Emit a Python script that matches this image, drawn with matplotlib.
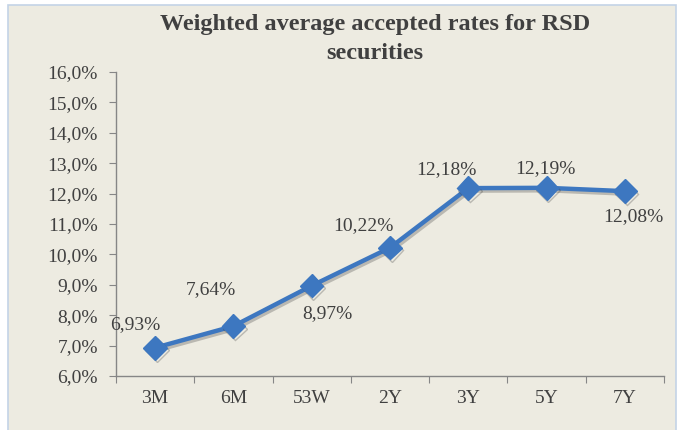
import matplotlib.pyplot as plt
import matplotlib.patheffects as pe
from matplotlib.patches import Rectangle

categories = ['3M', '6M', '53W', '2Y', '3Y', '5Y', '7Y']
rates = [6.93, 7.64, 8.97, 10.22, 12.18, 12.19, 12.08]
labels = ['6,93%', '7,64%', '8,97%', '10,22%', '12,18%', '12,19%', '12,08%']
# label offsets in points (dx, dy)
offsets = [(-14, 17), (-16, 26), (11, -20), (-19, 16), (-16, 13), (-1, 14), (6, -18)]

plt.rcParams['font.family'] = ['Liberation Serif', 'DejaVu Serif']
txt = '#404040'
bg = '#EDEBE1'

fig = plt.figure(figsize=(6.81, 4.30), dpi=100, facecolor='white')
fig.patches.append(Rectangle((8 / 681, -0.01), 668 / 681, 1 - 5 / 430 + 0.01,
                             transform=fig.transFigure, facecolor=bg,
                             edgecolor='#C3D3E6', linewidth=1.2, zorder=-10))

ax = fig.add_axes([116 / 681, 1 - 376 / 430, 548 / 681, 304 / 430])
ax.set_facecolor(bg)
ax.patch.set_alpha(0)

x = list(range(len(categories)))
ax.plot(x, rates, color='#3D77C0', linewidth=3.2, marker='D', markersize=12,
        markeredgecolor='#3D77C0', zorder=3,
        path_effects=[pe.SimpleLineShadow(offset=(1.2, -1.8), alpha=0.3, shadow_color='#444444'),
                      pe.Normal()])

for xi, yi, lab, off in zip(x, rates, labels, offsets):
    ax.annotate(lab, (xi, yi), xytext=off, textcoords='offset points',
                ha='center', va='center', fontsize=14, color=txt)

ax.set_xlim(-0.5, 6.5)
ax.set_ylim(6, 16)
ax.set_yticks(range(6, 17))
ax.set_yticklabels(['%d,0%%' % v for v in range(6, 17)], fontsize=14, color=txt)
ax.set_xticks([i - 0.5 for i in range(8)])
ax.set_xticklabels([])
ax.set_xticks(x, minor=True)
ax.set_xticklabels(categories, minor=True, fontsize=14, color=txt)
ax.tick_params(axis='x', which='major', length=5, color='#868686', direction='out')
ax.tick_params(axis='x', which='minor', length=0, pad=10)
ax.tick_params(axis='y', length=5, color='#868686', direction='out', pad=8)

for s in ['top', 'right']:
    ax.spines[s].set_visible(False)
for s in ['left', 'bottom']:
    ax.spines[s].set_color('#868686')
    ax.spines[s].set_linewidth(1.0)

fig.text(375 / 681, 1 - 39 / 430, 'Weighted average accepted rates for RSD\nsecurities',
         ha='center', va='center', fontsize=17.5, fontweight='bold', color=txt,
         linespacing=1.55)

fig.savefig('out.png', dpi=100, facecolor='white')
